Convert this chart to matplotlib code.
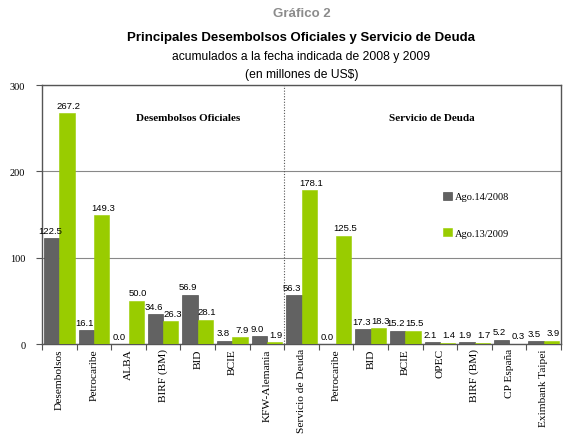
import matplotlib
matplotlib.use("Agg")
import matplotlib.pyplot as plt
import numpy as np

categories = ["Desembolsos", "Petrocaribe", "ALBA", "BIRF (BM)", "BID", "BCIE",
              "KFW-Alemania", "Servicio de Deuda", "Petrocaribe", "BID", "BCIE",
              "OPEC", "BIRF (BM)", "CP España", "Eximbank Taipei"]
s2008 = [122.5, 16.1, 0.0, 34.6, 56.9, 3.8, 9.0, 56.3, 0.0, 17.3, 15.2, 2.1, 1.9, 5.2, 3.5]
s2009 = [267.2, 149.3, 50.0, 26.3, 28.1, 7.9, 1.9, 178.1, 125.5, 18.3, 15.5, 1.4, 1.7, 0.3, 3.9]
series_names = ["Ago.14/2008", "Ago.13/2009"]

fig = plt.figure(figsize=(5.71, 4.39), dpi=100)
ax = fig.add_axes([0.0736, 0.2141, 0.9089, 0.5899])

x = np.arange(len(categories))
w = 0.44
b1 = ax.bar(x - w/2, s2008, w, color="#626262", edgecolor="#3a3a3a", linewidth=0.4, label=series_names[0], zorder=3)
b2 = ax.bar(x + w/2, s2009, w, color="#99cc00", edgecolor="#99cc00", linewidth=0.4, label=series_names[1], zorder=3)

for rect, v in zip(b1, s2008):
    ax.text(rect.get_x() + rect.get_width()/2 - 0.05, v + 4, f"{v:.1f}", ha="center", va="bottom",
            fontsize=6.8, family="Liberation Sans")
for rect, v in zip(b2, s2009):
    ax.text(rect.get_x() + rect.get_width()/2 + 0.05, v + 4, f"{v:.1f}", ha="center", va="bottom",
            fontsize=6.8, family="Liberation Sans")

ax.set_xlim(-0.5, len(categories) - 0.5)
ax.set_ylim(0, 300)
ax.set_yticks([0, 100, 200, 300])
ax.set_yticklabels(["0", "100", "200", "300"], fontsize=7.5, family="Liberation Serif")
ax.yaxis.grid(True, color="#888888", linewidth=0.8, zorder=0)
ax.set_axisbelow(True)

ax.set_xticks(np.arange(len(categories) + 1) - 0.5, minor=False)
ax.set_xticklabels([])
ax.set_xticks(x, minor=True)
ax.set_xticklabels(categories, minor=True, rotation=90, fontsize=8.2, family="Liberation Serif")
ax.tick_params(axis="x", which="minor", length=0, pad=3)
ax.tick_params(axis="x", which="major", length=4, color="#555555")
ax.tick_params(axis="y", length=4, color="#555555", pad=8)

for sp in ["top", "right", "left", "bottom"]:
    ax.spines[sp].set_color("#555555")
    ax.spines[sp].set_linewidth(1.0)

ax.axvline(6.5, color="#555555", linestyle=(0, (1, 1.5)), linewidth=0.8, zorder=2)

ax.text(3.72, 262, "Desembolsos Oficiales", ha="center", va="center", fontsize=8,
        fontweight="bold", family="Liberation Serif")
ax.text(10.77, 262, "Servicio de Deuda", ha="center", va="center", fontsize=8,
        fontweight="bold", family="Liberation Serif")

leg = ax.legend(loc="upper left", bbox_to_anchor=(0.755, 0.624), frameon=False,
                prop={"family": "Liberation Serif", "size": 7.5},
                handlelength=0.8, handleheight=0.8, handletextpad=0.3, labelspacing=2.6)

cx = 0.528
fig.text(cx, 0.968, "Gráfico 2", ha="center", va="center", fontsize=9.5,
         fontweight="bold", color="#8c8c8c", family="Liberation Sans")
fig.text(cx, 0.913, "Principales Desembolsos Oficiales y Servicio de Deuda", ha="center",
         va="center", fontsize=9.5, fontweight="bold", family="Liberation Sans")
fig.text(cx, 0.870, "acumulados a la fecha indicada de 2008 y 2009", ha="center",
         va="center", fontsize=8.7, family="Liberation Sans")
fig.text(cx, 0.830, "(en millones de US$)", ha="center", va="center", fontsize=8.7,
         family="Liberation Sans")

fig.savefig("out.png", dpi=100)
